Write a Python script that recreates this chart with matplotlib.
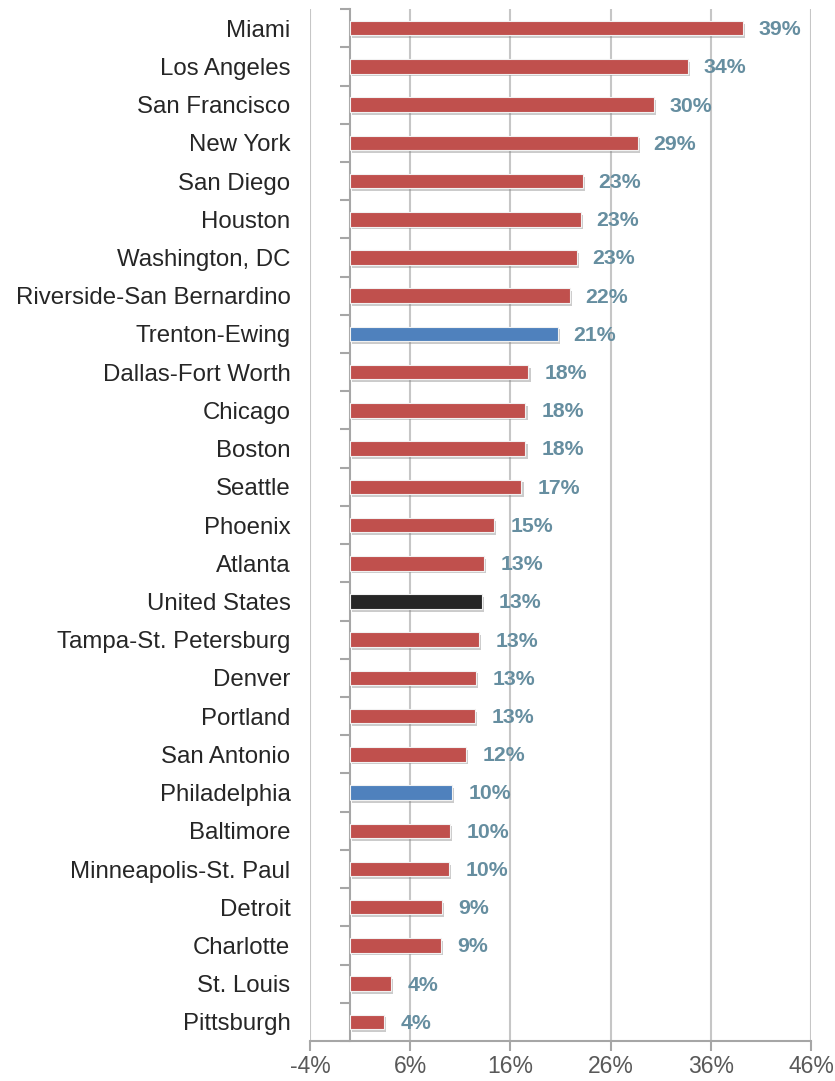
import matplotlib
matplotlib.use('Agg')
import matplotlib.pyplot as plt
import matplotlib.patheffects as pe
from matplotlib.ticker import FixedLocator, FuncFormatter
import numpy as np

plt.rcParams['font.family'] = ['Liberation Sans', 'DejaVu Sans']

cities = ['Miami', 'Los Angeles', 'San Francisco', 'New York', 'San Diego',
          'Houston', 'Washington, DC', 'Riverside-San Bernardino',
          'Trenton-Ewing', 'Dallas-Fort Worth', 'Chicago', 'Boston',
          'Seattle', 'Phoenix', 'Atlanta', 'United States',
          'Tampa-St. Petersburg', 'Denver', 'Portland', 'San Antonio',
          'Philadelphia', 'Baltimore', 'Minneapolis-St. Paul', 'Detroit',
          'Charlotte', 'St. Louis', 'Pittsburgh']
values = [39.2, 33.7, 30.3, 28.7, 23.2, 23.0, 22.6, 21.9, 20.7, 17.8, 17.5,
          17.5, 17.1, 14.4, 13.4, 13.2, 12.9, 12.6, 12.5, 11.6, 10.2, 10.0,
          9.9, 9.2, 9.1, 4.1, 3.4]
labels = ['39%', '34%', '30%', '29%', '23%', '23%', '23%', '22%', '21%',
          '18%', '18%', '18%', '17%', '15%', '13%', '13%', '13%', '13%',
          '13%', '12%', '10%', '10%', '10%', '9%', '9%', '4%', '4%']
xticks = [-4, 6, 16, 26, 36, 46]

red = '#c0504d'
blue = '#4f81bd'
black = '#262626'
highlight = {'Trenton-Ewing': blue, 'Philadelphia': blue, 'United States': black}
colors = [highlight.get(c, red) for c in cities]

fig = plt.figure(figsize=(8.35, 10.81), dpi=100)
ax = fig.add_axes([0.3713, 0.037, 0.6, 0.9546])

y = np.arange(len(cities))
bars = ax.barh(y, values, height=0.38, color=colors, edgecolor='#f2f2f2',
               linewidth=0.8, zorder=3)
for b in bars:
    b.set_path_effects([pe.SimplePatchShadow(offset=(1.5, -2), shadow_rgbFace='#7f7f7f',
                                             alpha=0.4),
                        pe.Normal()])

for yi, v, lab in zip(y, values, labels):
    ax.annotate(lab, (v, yi), xytext=(11.5, -1), textcoords='offset points',
                ha='left', va='center', fontsize=15.3, fontweight='bold',
                color='#668ea0')

ax.set_xlim(-4, 46)
ax.set_ylim(len(cities) - 0.5, -0.5)
ax.set_xticks(xticks)
ax.xaxis.set_major_formatter(FuncFormatter(lambda v, p: f'{v:.0f}%'))
ax.tick_params(axis='x', length=7, width=1.5, color='#a6a6a6',
               labelsize=16.5, labelcolor='#595959', pad=3)
ax.grid(axis='x', color='#c6c6c6', linewidth=1.5, zorder=0)
ax.set_axisbelow(True)

# category axis sits at x = 0
ax.spines['left'].set_position(('data', 0))
ax.spines['left'].set_color('#a6a6a6')
ax.spines['left'].set_linewidth(1.5)
ax.set_yticks(y)
ax.set_yticklabels(cities)
ax.yaxis.set_minor_locator(FixedLocator(np.arange(len(cities) + 1) - 0.5))
ax.tick_params(axis='y', which='major', length=0, labelsize=17.3,
               labelcolor='#262626', pad=43)
ax.tick_params(axis='y', which='minor', length=7, width=1.5, color='#a6a6a6')

for s in ['top', 'right']:
    ax.spines[s].set_visible(False)
ax.spines['bottom'].set_color('#a6a6a6')
ax.spines['bottom'].set_linewidth(1.5)

fig.savefig('out.png', dpi=100)
